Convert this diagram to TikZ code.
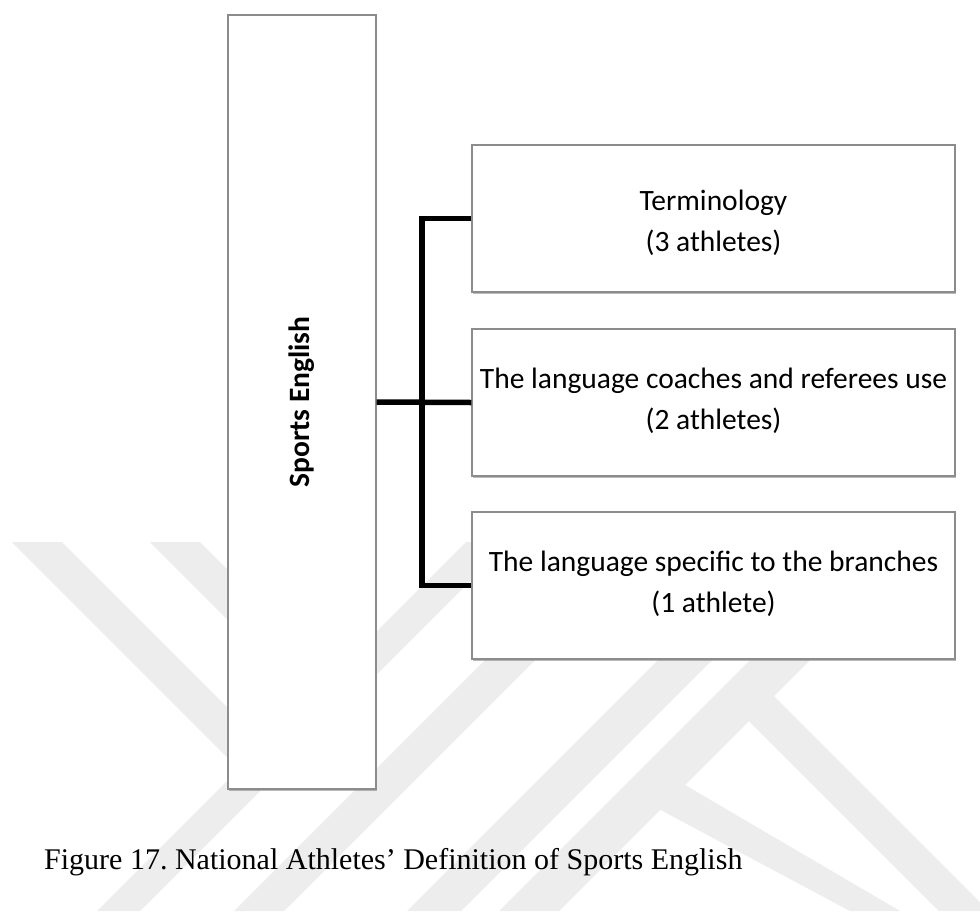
\documentclass[tikz,border=0pt]{standalone}
\usepackage{fontspec}
\setmainfont{Liberation Serif}
\newfontfamily\boxfont{Carlito}
\usetikzlibrary{shadows}
\frenchspacing

\tikzset{
  box/.style={draw=black!45, line width=1.3pt, fill=white,
    drop shadow={shadow xshift=1.2pt, shadow yshift=-2.2pt, opacity=0.45, fill=black!60}},
  leaf/.style={box, minimum width=483pt, minimum height=147pt, inner sep=0pt},
  boxtext/.style={font=\boxfont\fontsize{29.5}{41}\selectfont, anchor=base, inner sep=0pt},
  conn/.style={line width=5.5pt, line join=miter, line cap=butt},
  wmstripe/.style={fill=black!7}
}

\begin{document}
\begin{tikzpicture}[x=1pt, y=-1pt]
\fill[white] (0,0) rectangle (980,911);
\useasboundingbox (0,0) rectangle (980,911);

% faint watermark stripes
\fill[wmstripe] (12,542) -- (62,542) -- (300,780) -- (250,780) -- cycle;
\fill[wmstripe] (150,542) -- (200,542) -- (330,672) -- (280,672) -- cycle;
\fill[wmstripe] (97,911) -- (140,911) -- (509,542) -- (466,542) -- cycle;
\fill[wmstripe] (234,911) -- (284,911) -- (653,542) -- (603,542) -- cycle;
\fill[wmstripe] (407,911) -- (461,911) -- (830,542) -- (776,542) -- cycle;
\fill[wmstripe] (499,911) -- (559,911) -- (928,542) -- (868,542) -- cycle;
\fill[wmstripe] (759,681) -- (980,902) -- (980,911) -- (939,911) -- (734,706) -- cycle;
\fill[wmstripe] (655,807) -- (680,782) -- (900,911) -- (850,911) -- cycle;

% main category
\node[box, minimum width=148pt, minimum height=774pt, inner sep=0pt] (se) at (302,402) {};
\node[rotate=90, font=\boxfont\bfseries\fontsize{29.5}{36}\selectfont, inner sep=0pt] (setxt) at (se.center) {Sports English};

% sub-categories
\node[leaf] (b1) at (713.5,218.5) {};
\node[leaf] (b2) at (713.5,402.5) {};
\node[leaf] (b3) at (713.5,585.5) {};
\node[boxtext] (t1a) at ([yshift=8.5pt]b1.center) {Terminology};
\node[boxtext] (t1b) at ([yshift=-32.5pt]b1.center) {(3 athletes)};
\node[boxtext] (t2a) at ([yshift=14.5pt]b2.center) {The language coaches and referees use};
\node[boxtext] (t2b) at ([yshift=-26.5pt]b2.center) {(2 athletes)};
\node[boxtext] (t3a) at ([yshift=13.8pt]b3.center) {The language specific to the branches};
\node[boxtext] (t3b) at ([yshift=-27.2pt]b3.center) {(1 athlete)};

% bracket connectors
\coordinate (spine) at (422,402);
\draw[conn] (se.east) -- (b2.west);
\draw[conn] (b1.west) -- (spine |- b1.west) -- (spine |- b3.west) -- (b3.west);

% caption
\node[anchor=base west, inner sep=0pt, font=\fontsize{30}{36}\selectfont] (cap) at (44,869)
  {Figure 17. National Athletes’ Definition of Sports English};
\end{tikzpicture}
\end{document}
